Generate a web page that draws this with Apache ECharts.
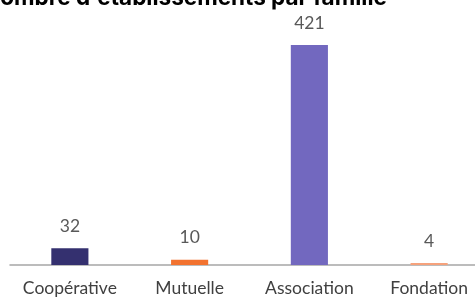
<!DOCTYPE html>
<html><head><meta charset="utf-8">
<script src="https://cdn.jsdelivr.net/npm/echarts@6/dist/echarts.min.js"></script>
<style>html,body{margin:0;padding:0;background:#fff;overflow:hidden}#c{width:475px;height:297px}</style>
</head><body><div id="c"></div>
<script>
const categories = ["Coopérative", "Mutuelle", "Association", "Fondation"];
const values = [32, 10, 421, 4];
const colors = ["#34306f", "#f2722f", "#7268bf", "#f6a27c"];
const titleText = "Nombre d'établissements par famille";

const chart = echarts.init(document.getElementById('c'), null, {renderer: 'canvas'});
chart.setOption({
  animation: false,
  title: {
    text: titleText, left: -22, top: -18, padding: 5,
    textStyle: {fontFamily: 'Inter', fontWeight: 'bold', fontSize: 22.5, color: '#000'}
  },
  grid: {left: 10, width: 479, top: 45, bottom: 32, containLabel: false, outerBoundsMode: 'none'},
  xAxis: {
    type: 'category', data: categories,
    axisLine: {lineStyle: {color: '#a6a6a6', width: 1.5}},
    axisTick: {show: false},
    axisLabel: {fontFamily: 'Lato', fontSize: 17.5, color: '#404040', margin: 14, interval: 0}
  },
  yAxis: {type: 'value', min: 0, max: 421, show: false, splitLine: {show: false}},
  series: [{
    type: 'bar', barWidth: '31%',
    data: values.map((v, i) => ({value: v, itemStyle: {color: colors[i]}})),
    label: {show: true, position: 'top', distance: 13, fontFamily: 'Lato', fontSize: 17.5, color: '#595959'}
  }]
});
</script></body></html>
